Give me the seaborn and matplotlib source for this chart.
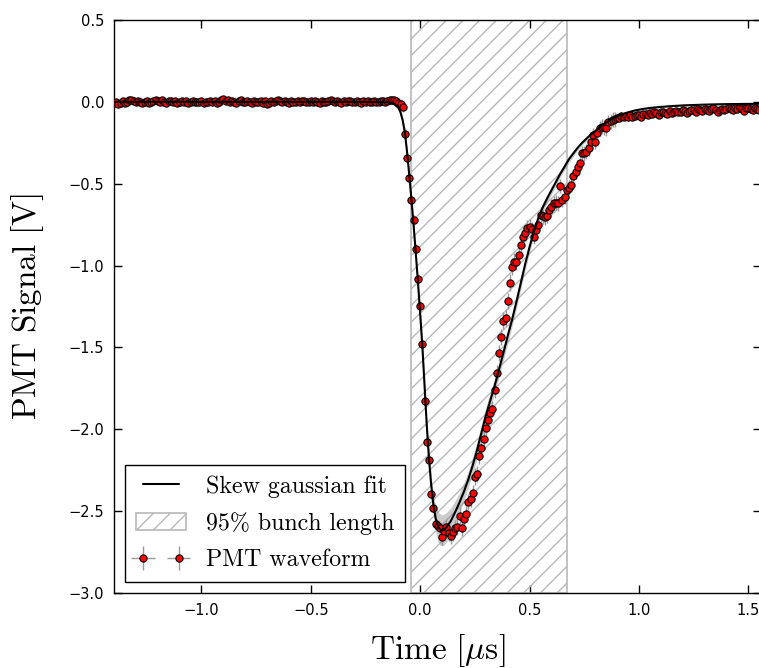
import numpy as np
import pandas as pd
import matplotlib
matplotlib.use("Agg")
import matplotlib.pyplot as plt
import seaborn as sns

# ---- waveform samples (10 ns sampling clock) ----
t_start_us, dt_us, n_samples = -1.40, 0.01, 296
time_us = np.round(t_start_us + dt_us * np.arange(n_samples), 2)

signal_v = [
    # -1.40 .. -0.11  baseline
    -0.005, 0.000, -0.012, -0.008, 0.004, -0.006, 0.002, 0.010, 0.014, 0.003,
    -0.004, 0.008, -0.002, -0.010, 0.002, 0.006, -0.006, -0.003, 0.005, 0.012,
    0.006, -0.004, 0.010, 0.002, -0.006, 0.004, 0.008, -0.002, 0.003, -0.008,
    0.002, 0.006, -0.004, 0.004, -0.006, 0.000, 0.005, -0.003, 0.002, -0.004,
    0.004, -0.006, 0.002, 0.000, 0.006, -0.002, 0.003, -0.005, 0.002, 0.012,
    0.015, 0.006, 0.010, -0.004, 0.008, 0.002, -0.006, 0.004, 0.010, 0.002,
    -0.004, 0.006, 0.000, -0.008, 0.004, 0.002, -0.002, 0.005, -0.006, 0.003,
    -0.012, -0.006, 0.004, -0.002, 0.008, 0.012, 0.004, -0.004, 0.006, 0.000,
    -0.006, 0.004, 0.002, -0.004, 0.006, -0.002, 0.004, 0.008, -0.004, 0.002,
    0.006, -0.004, 0.003, 0.000, -0.006, 0.005, 0.002, -0.003, 0.006, 0.010,
    0.004, -0.002, 0.006, 0.000, -0.006, 0.003, -0.002, 0.005, 0.008, 0.002,
    -0.004, 0.004, 0.002, -0.006, 0.006, -0.002, 0.003, 0.000, -0.004, 0.005,
    0.002, -0.004, 0.006, 0.003, 0.000, 0.008, 0.012, 0.012, 0.010, 0.008,
    # -0.10 .. 0.09  leading edge
    -0.008, -0.015, -0.030, -0.194, -0.346, -0.466, -0.601, -0.721, -0.898, -1.081,
    -1.246, -1.478, -1.830, -2.076, -2.188, -2.398, -2.481, -2.577, -2.593, -2.601,
    # 0.10 .. 0.49  minimum and recovery
    -2.658, -2.622, -2.596, -2.634, -2.651, -2.630, -2.606, -2.594, -2.527, -2.604,
    -2.549, -2.517, -2.445, -2.427, -2.389, -2.289, -2.272, -2.164, -2.112, -2.061,
    -1.990, -1.943, -1.902, -1.878, -1.760, -1.656, -1.535, -1.437, -1.336, -1.318,
    -1.218, -1.104, -1.006, -0.976, -0.976, -0.935, -0.874, -0.823, -0.803, -0.772,
    # 0.50 .. 0.89
    -0.762, -0.776, -0.823, -0.782, -0.751, -0.690, -0.700, -0.705, -0.696, -0.660,
    -0.640, -0.619, -0.615, -0.619, -0.514, -0.599, -0.579, -0.538, -0.524, -0.507,
    -0.456, -0.426, -0.400, -0.375, -0.314, -0.314, -0.304, -0.283, -0.243, -0.202,
    -0.243, -0.191, -0.161, -0.151, -0.155, -0.161, -0.126, -0.120, -0.110, -0.106,
    # 0.90 .. 1.55  tail
    -0.096, -0.100, -0.085, -0.092, -0.088, -0.095, -0.080, -0.090, -0.085, -0.083,
    -0.078, -0.090, -0.076, -0.072, -0.080, -0.068, -0.075, -0.065, -0.070, -0.078,
    -0.062, -0.060, -0.068, -0.072, -0.058, -0.070, -0.062, -0.055, -0.060, -0.065,
    -0.050, -0.058, -0.066, -0.055, -0.048, -0.052, -0.060, -0.045, -0.050, -0.058,
    -0.046, -0.052, -0.056, -0.044, -0.040, -0.050, -0.062, -0.048, -0.042, -0.050,
    -0.046, -0.038, -0.044, -0.052, -0.040, -0.046, -0.036, -0.042, -0.055, -0.040,
    -0.035, -0.044, -0.048, -0.038, -0.042, -0.050,
]

# per-sample uncertainty by waveform region
signal_err = [0.012] * 130 + [0.03] * 20 + [0.05] * 40 + [0.045] * 40 + [0.02] * 66

# ---- skew gaussian fit ----
fit_t = [-1.40, -0.30, -0.20, -0.15, -0.12, -0.10, -0.09, -0.08, -0.07, -0.06,
         -0.05, -0.04, -0.03, -0.02, -0.01, 0.00, 0.01, 0.02, 0.03, 0.04,
         0.05, 0.06, 0.07, 0.08, 0.09, 0.10, 0.11, 0.12, 0.14, 0.16,
         0.18, 0.20, 0.22, 0.24, 0.26, 0.28, 0.30, 0.32, 0.34, 0.36,
         0.38, 0.40, 0.42, 0.44, 0.46, 0.48, 0.50, 0.52, 0.54, 0.56,
         0.58, 0.60, 0.62, 0.64, 0.66, 0.68, 0.70, 0.72, 0.74, 0.76,
         0.78, 0.80, 0.82, 0.84, 0.86, 0.88, 0.90, 0.94, 0.98, 1.02,
         1.06, 1.10, 1.15, 1.20, 1.30, 1.40, 1.56]
fit_v = [0.000, 0.000, -0.001, -0.003, -0.012, -0.035, -0.065, -0.115, -0.190, -0.310,
         -0.450, -0.600, -0.760, -0.930, -1.110, -1.300, -1.500, -1.740, -1.980, -2.180,
         -2.340, -2.460, -2.540, -2.590, -2.612, -2.618, -2.612, -2.598, -2.560, -2.505,
         -2.445, -2.380, -2.305, -2.220, -2.125, -2.020, -1.915, -1.825, -1.735, -1.635,
         -1.535, -1.430, -1.330, -1.220, -1.105, -0.990, -0.885, -0.790, -0.710, -0.645,
         -0.590, -0.540, -0.490, -0.440, -0.395, -0.350, -0.315, -0.280, -0.250, -0.225,
         -0.200, -0.180, -0.155, -0.135, -0.117, -0.100, -0.088, -0.068, -0.053, -0.043,
         -0.036, -0.031, -0.026, -0.022, -0.017, -0.014, -0.012]
fit_band = [0.003, 0.003, 0.004, 0.006, 0.010, 0.015, 0.020, 0.025, 0.030, 0.030,
            0.030, 0.030, 0.030, 0.030, 0.030, 0.030, 0.030, 0.035, 0.040, 0.050,
            0.060, 0.070, 0.080, 0.090, 0.095, 0.095, 0.095, 0.090, 0.080, 0.070,
            0.060, 0.055, 0.050, 0.050, 0.050, 0.050, 0.050, 0.050, 0.045, 0.045,
            0.045, 0.045, 0.040, 0.040, 0.040, 0.035, 0.035, 0.030, 0.030, 0.030,
            0.025, 0.025, 0.025, 0.020, 0.020, 0.020, 0.020, 0.015, 0.015, 0.015,
            0.015, 0.012, 0.012, 0.010, 0.010, 0.010, 0.008, 0.008, 0.006, 0.006,
            0.005, 0.005, 0.004, 0.004, 0.003, 0.003, 0.003]

# 95% bunch length window [us]
bunch_window = (-0.040, 0.669)

wave = pd.DataFrame({"time": time_us, "signal": signal_v, "err": signal_err})
fit = pd.DataFrame({"time": fit_t, "signal": fit_v, "band": fit_band})

sns.set_style("ticks")
plt.rcParams.update({
    "font.family": ["DejaVu Sans"],
    "mathtext.fontset": "cm",
    "hatch.linewidth": 1.0,
    "axes.linewidth": 1.0,
    "text.color": "black",
    "axes.labelcolor": "black",
})

fig = plt.figure(figsize=(7.59, 6.68), dpi=100)
# the right-hand spine sits just past the canvas edge
ax = fig.add_axes([114 / 759, 0.1123, 646.5 / 759, 0.8578])

ax.fill_between(fit["time"], fit["signal"] - fit["band"], fit["signal"] + fit["band"],
                color="0.55", alpha=0.45, linewidth=0, zorder=2)
sns.lineplot(data=fit, x="time", y="signal", color="black", linewidth=1.5,
             ax=ax, label="Skew gaussian fit", zorder=4, sort=False)
ax.axvspan(*bunch_window, facecolor="none", edgecolor="0.72", hatch="//",
           linewidth=1.2, label="95% bunch length", zorder=1)
ax.errorbar(wave["time"], wave["signal"], yerr=wave["err"], xerr=0.002,
            fmt="o", color="red", markeredgecolor="black", markeredgewidth=0.8,
            markersize=5.2, ecolor="0.6", elinewidth=1.0, capsize=0,
            label="PMT waveform", zorder=3)

ax.set_xlim(-1.40, 1.5555)
ax.set_ylim(-3.0, 0.5)
ax.set_xticks([-1.0, -0.5, 0.0, 0.5, 1.0, 1.5])
ax.set_yticks([-3.0, -2.5, -2.0, -1.5, -1.0, -0.5, 0.0, 0.5])
fmt = matplotlib.ticker.FuncFormatter(lambda v, p: f"{v:.1f}".replace("-", "\u2212"))
ax.xaxis.set_major_formatter(fmt)
ax.yaxis.set_major_formatter(fmt)
ax.tick_params(direction="in", length=5.5, width=1.0, top=True, right=True,
               labelsize=10.5, pad=7, colors="black")
for s in ax.spines.values():
    s.set_visible(True)
    s.set_color("black")
    s.set_linewidth(1.0)

ax.set_xlabel(r"$\mathrm{Time}\ [\mu\mathrm{s}]$", fontsize=24, labelpad=10)
ax.set_ylabel(r"$\mathrm{PMT\ Signal}\ [\mathrm{V}]$", fontsize=24, labelpad=16)

leg = ax.legend(loc="lower left", numpoints=2, fancybox=False, frameon=True,
                prop={"family": "cmr10", "size": 17.2}, handlelength=2.1,
                borderpad=0.45, labelspacing=0.6, handletextpad=0.85,
                borderaxespad=0.45)
leg.get_frame().set_edgecolor("black")
leg.get_frame().set_linewidth(1.0)
leg.get_frame().set_alpha(1.0)

fig.savefig("out.png", dpi=100)
